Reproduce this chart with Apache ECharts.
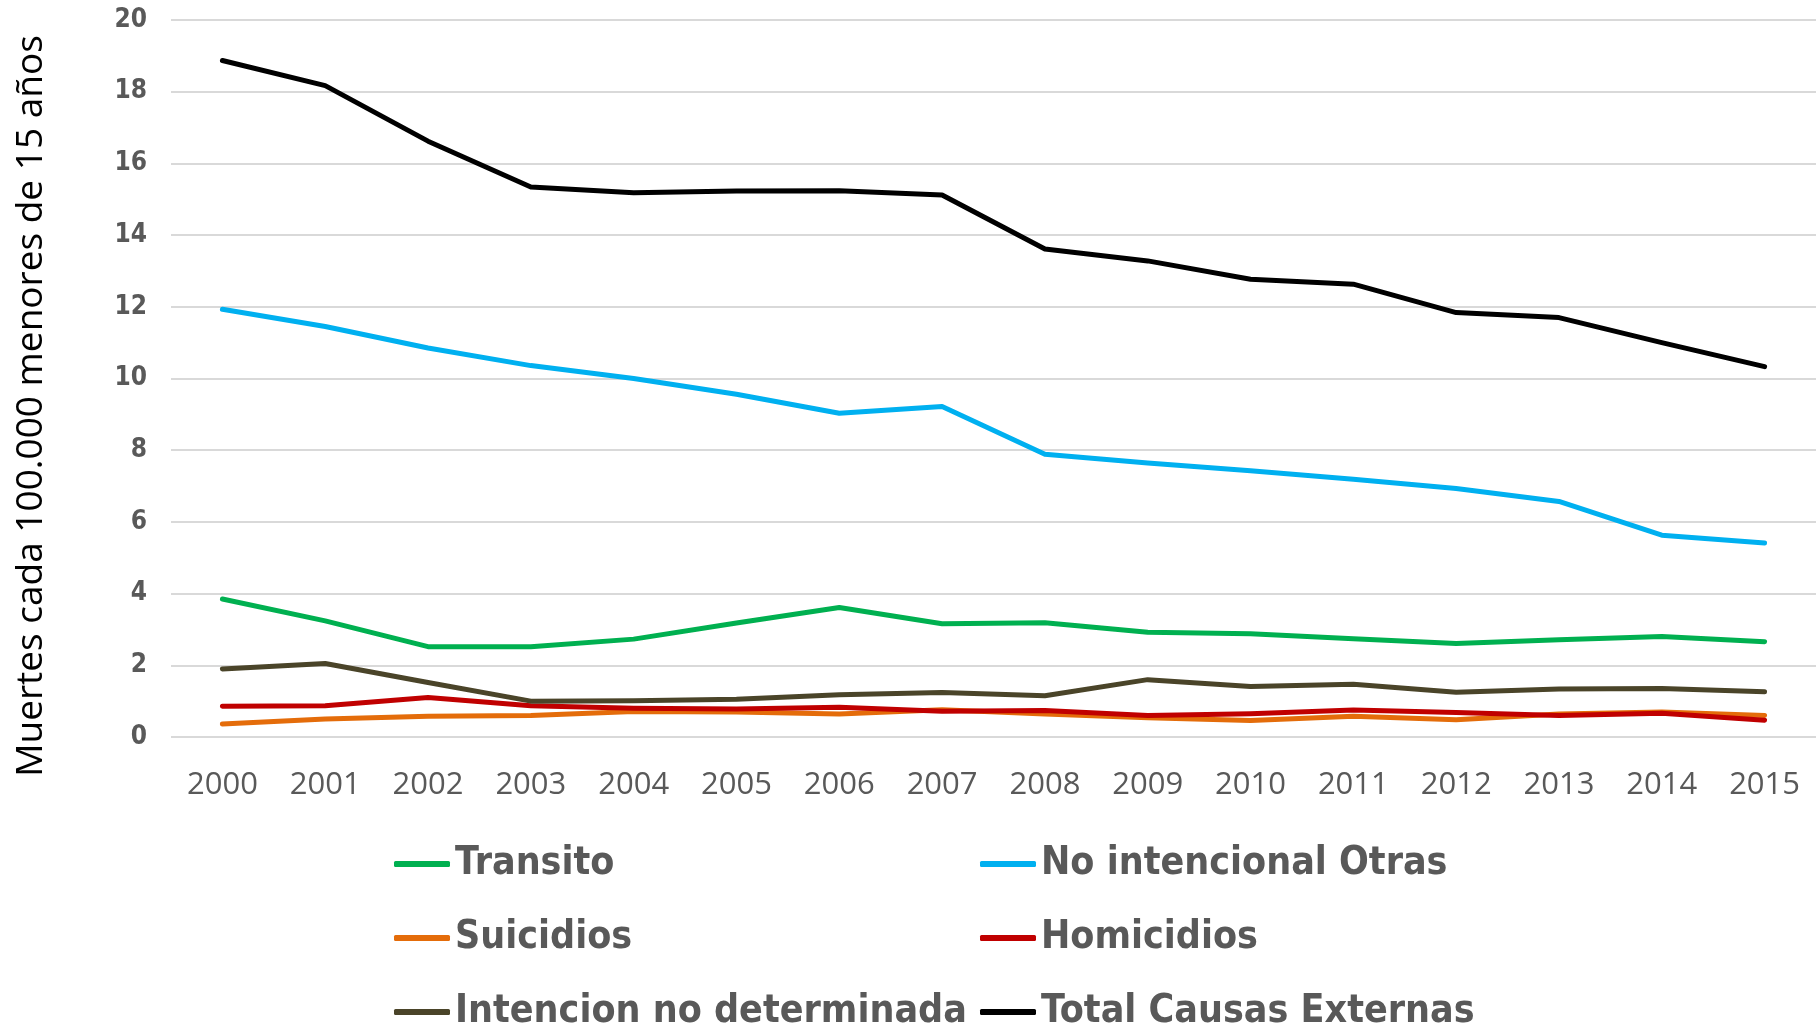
<!DOCTYPE html>
<html>
<head>
<meta charset="utf-8">
<script src="https://cdn.jsdelivr.net/npm/echarts@6/dist/echarts.min.js"></script>
<style>
html,body{margin:0;padding:0;background:#fff;}
#chart{width:1816px;height:1028px;}
</style>
</head>
<body>
<div id="chart"></div>
<script>
var years = ['2000','2001','2002','2003','2004','2005','2006','2007','2008','2009','2010','2011','2012','2013','2014','2015'];
var transito = [3.85, 3.24, 2.52, 2.52, 2.73, 3.18, 3.61, 3.16, 3.19, 2.92, 2.88, 2.74, 2.61, 2.71, 2.80, 2.66];
var noIntencional = [11.93, 11.45, 10.85, 10.36, 10.0, 9.56, 9.03, 9.22, 7.89, 7.64, 7.43, 7.19, 6.93, 6.57, 5.63, 5.41];
var suicidios = [0.36, 0.50, 0.58, 0.60, 0.71, 0.70, 0.64, 0.76, 0.64, 0.54, 0.46, 0.58, 0.48, 0.64, 0.70, 0.60];
var homicidios = [0.86, 0.87, 1.10, 0.87, 0.80, 0.78, 0.83, 0.72, 0.74, 0.60, 0.65, 0.75, 0.68, 0.60, 0.66, 0.47];
var intencion = [1.90, 2.05, 1.52, 1.00, 1.01, 1.05, 1.18, 1.24, 1.15, 1.60, 1.41, 1.47, 1.25, 1.34, 1.35, 1.26];
var total = [18.87, 18.17, 16.62, 15.34, 15.18, 15.23, 15.24, 15.12, 13.61, 13.28, 12.77, 12.63, 11.84, 11.70, 11.00, 10.33];
var yTicks = {min: 0, max: 20, interval: 2};

var names = ['Transito','No intencional Otras','Suicidios','Homicidios','Intencion no determinada','Total Causas Externas'];
var colors = ['#00B050','#00B0F0','#E46C0A','#C00000','#4A4429','#000000'];
var values = [transito, noIntencional, suicidios, homicidios, intencion, total];

var narrow = "'Liberation Sans Narrow','DejaVu Sans Condensed',sans-serif";
var chart = echarts.init(document.getElementById('chart'));
var legendText = {fontSize: 39, fontWeight: 'bold', color: '#595959', fontFamily: narrow, lineHeight: 48};
var option = {
  animation: false,
  color: colors,
  grid: {left: 171, right: 0, top: 20, bottom: 291, containLabel: false},
  xAxis: {
    type: 'category',
    data: years,
    boundaryGap: true,
    axisLine: {show: false},
    axisTick: {show: false},
    axisLabel: {fontSize: 31, color: '#595959', fontFamily: "'Open Sans',sans-serif", margin: 33}
  },
  yAxis: {
    type: 'value',
    min: yTicks.min, max: yTicks.max, interval: yTicks.interval,
    axisLine: {show: false},
    axisTick: {show: false},
    splitLine: {lineStyle: {color: '#D9D9D9', width: 2}},
    axisLabel: {fontSize: 26, fontWeight: 'bold', color: '#595959', fontFamily: narrow, margin: 24}
  },
  legend: [
    {
      orient: 'vertical', left: 394, top: 840, width: 580, height: 220, padding: 0, itemGap: 26,
      itemWidth: 56, itemHeight: 6, icon: 'roundRect',
      data: [names[0], names[2], names[4]],
      textStyle: legendText
    },
    {
      orient: 'vertical', left: 980, top: 840, width: 580, height: 220, padding: 0, itemGap: 26,
      itemWidth: 56, itemHeight: 6, icon: 'roundRect',
      data: [names[1], names[3], names[5]],
      textStyle: legendText
    }
  ],
  graphic: [{
    type: 'text',
    x: 31, y: 406,
    rotation: Math.PI / 2,
    style: {
      text: 'Muertes cada 100.000 menores de 15 años',
      font: "37px 'Open Sans', sans-serif",
      fill: '#000000',
      textAlign: 'center',
      textVerticalAlign: 'middle'
    }
  }],
  series: names.map(function (n, i) {
    return {
      name: n,
      type: 'line',
      data: values[i],
      showSymbol: false,
      symbol: 'none',
      lineStyle: {width: 5, color: colors[i], cap: 'round', join: 'round'},
      itemStyle: {color: colors[i]}
    };
  })
};
chart.setOption(option);
</script>
</body>
</html>
